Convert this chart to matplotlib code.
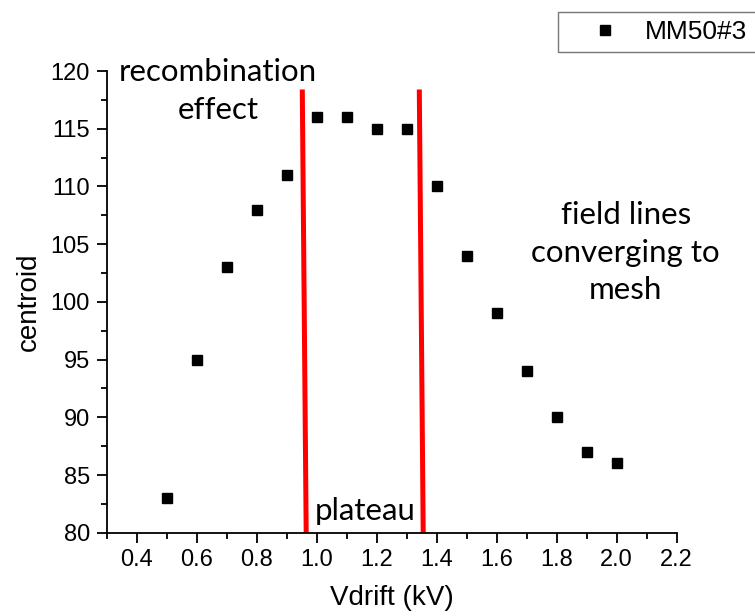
import matplotlib

matplotlib.use("Agg")
import matplotlib.pyplot as plt
from matplotlib.ticker import MultipleLocator

plt.rcParams["font.family"] = ["Liberation Sans", "DejaVu Sans"]

# drift voltage scan
vdrift = [0.5, 0.6, 0.7, 0.8, 0.9, 1.0, 1.1, 1.2, 1.3, 1.4, 1.5, 1.6, 1.7, 1.8, 1.9, 2.0]
centroid = [83, 95, 103, 108, 111, 116, 116, 115, 115, 110, 104, 99, 94, 90, 87, 86]
series_name = "MM50#3"

# plateau boundaries (drawn slightly slanted)
left_edge_x = [0.952, 0.965]
right_edge_x = [1.342, 1.355]
edge_y = [118.4, 80]

fig = plt.figure(figsize=(7.55, 6.16), dpi=100)
ax = fig.add_axes([0.1413, 0.1352, 0.755, 0.7495])

pts, = ax.plot(vdrift, centroid, "s", color="black", markersize=6.5, linestyle="none",
               label=series_name)

ax.plot(left_edge_x, edge_y, color="#ff0000", linewidth=3.6, solid_capstyle="butt")
ax.plot(right_edge_x, edge_y, color="#ff0000", linewidth=3.6, solid_capstyle="butt")

ax.set_xlim(0.3, 2.2)
ax.set_ylim(80, 120)
ax.xaxis.set_minor_locator(MultipleLocator(0.1))
ax.yaxis.set_major_locator(MultipleLocator(5))
ax.yaxis.set_minor_locator(MultipleLocator(2.5))
xticks = [0.4, 0.6, 0.8, 1.0, 1.2, 1.4, 1.6, 1.8, 2.0, 2.2]
ax.set_xticks(xticks)
ax.set_xticklabels([f"{t:.1f}" for t in xticks])

for side in ("top", "right"):
    ax.spines[side].set_visible(False)
for side in ("left", "bottom"):
    ax.spines[side].set_linewidth(1.3)
ax.tick_params(which="major", direction="out", length=7, width=1.3, labelsize=17, pad=5)
ax.tick_params(which="minor", direction="out", length=4, width=1.3)

ax.set_xlabel("Vdrift (kV)", fontsize=20, labelpad=10)
ax.set_ylabel("centroid", fontsize=20, labelpad=6)

note = dict(family=["Lato", "DejaVu Sans"], fontsize=22.5, ha="center", va="center")
ax.text(0.671, 119.9, "recombination", **note)
ax.text(0.671, 116.6, "effect", **note)
ax.text(2.03, 107.5, "field lines", **note)
ax.text(2.03, 104.2, "converging to", **note)
ax.text(2.03, 101.0, "mesh", **note)
ax.text(1.16, 81.9, "plateau", **note)

leg = fig.legend(handles=[pts], loc="upper left", bbox_to_anchor=(558 / 755, 1 - 12 / 616),
                 fontsize=19, frameon=True, fancybox=False, borderpad=0.3,
                 handletextpad=0.05, handlelength=2.96, borderaxespad=0)
leg.get_frame().set_edgecolor("#555555")
leg.get_frame().set_linewidth(1.0)

fig.savefig("out.png", dpi=100)
